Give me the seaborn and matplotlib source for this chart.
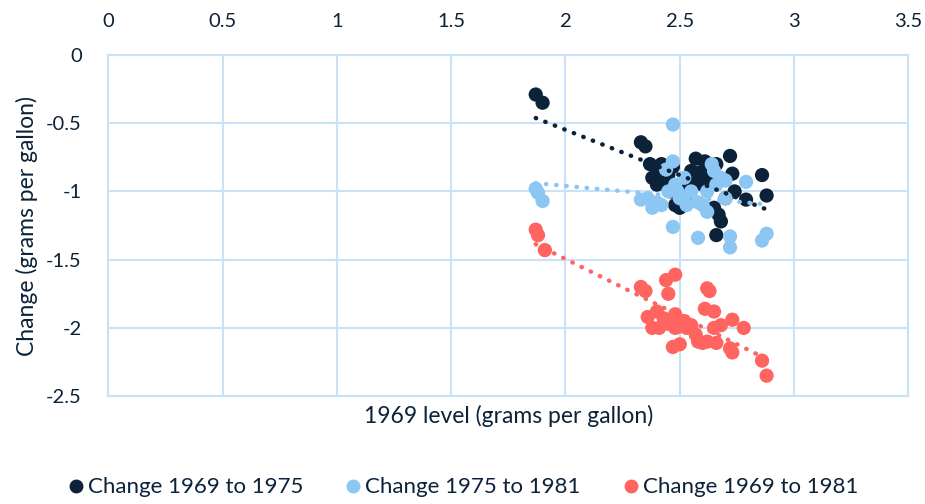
import matplotlib
matplotlib.use("Agg")
import matplotlib.pyplot as plt
import matplotlib.ticker as mticker
import pandas as pd
import seaborn as sns
from matplotlib.lines import Line2D

# change 1969 to 1975
x_6975 = [1.87, 1.90, 2.33, 2.35, 2.37, 2.40, 2.40, 2.43, 2.45, 2.47, 2.50, 2.50,
          2.53, 2.55, 2.57, 2.58, 2.60, 2.61, 2.62, 2.63, 2.64, 2.65, 2.66, 2.67,
          2.68, 2.70, 2.72, 2.73, 2.74, 2.79, 2.86, 2.88, 2.46, 2.52, 2.48,
          2.38, 2.42, 2.56, 2.59, 2.66]
y_6975 = [-0.29, -0.35, -0.64, -0.67, -0.80, -0.85, -0.95, -0.92, -0.88, -0.82, -1.08, -1.12,
          -0.98, -0.85, -0.76, -0.90, -0.95, -0.78, -0.83, -0.90, -0.95, -1.12, -1.32, -1.17,
          -1.22, -1.05, -0.74, -0.87, -1.00, -1.06, -0.88, -1.03, -1.00, -1.05, -1.10,
          -0.90, -0.80, -0.93, -0.86, -0.80]

# change 1975 to 1981
x_7581 = [1.87, 1.88, 1.90, 2.33, 2.36, 2.38, 2.40, 2.42, 2.44, 2.47, 2.47, 2.48,
          2.49, 2.50, 2.47, 2.52, 2.55, 2.58, 2.60, 2.62, 2.58, 2.64, 2.65, 2.66,
          2.68, 2.70, 2.72, 2.72, 2.79, 2.86, 2.88, 2.62, 2.70, 2.53, 2.45]
y_7581 = [-0.98, -1.01, -1.07, -1.06, -1.05, -1.12, -1.08, -1.10, -0.84, -0.51, -0.78, -0.95,
          -1.00, -1.05, -1.26, -0.90, -1.00, -1.08, -1.10, -1.15, -1.34, -0.80, -0.85, -0.95,
          -0.90, -0.92, -1.33, -1.41, -0.93, -1.36, -1.31, -1.00, -1.05, -1.10, -1.00]

# change 1969 to 1981
x_6981 = [1.87, 1.88, 1.91, 2.33, 2.35, 2.36, 2.38, 2.40, 2.41, 2.43, 2.44, 2.48,
          2.45, 2.48, 2.48, 2.47, 2.50, 2.50, 2.52, 2.53, 2.55, 2.57, 2.60, 2.62,
          2.62, 2.63, 2.61, 2.65, 2.65, 2.68, 2.66, 2.72, 2.73, 2.73, 2.78, 2.86,
          2.88, 2.58, 2.45]
y_6981 = [-1.28, -1.32, -1.43, -1.70, -1.73, -1.92, -2.00, -1.88, -2.00, -1.93, -1.65, -1.61,
          -1.75, -1.90, -2.00, -2.14, -2.12, -1.99, -1.95, -2.00, -1.98, -2.05, -2.11, -2.10,
          -1.71, -1.73, -1.86, -1.88, -2.00, -1.98, -2.11, -2.15, -2.18, -1.94, -2.00, -2.24,
          -2.35, -2.10, -1.97]

series_names = ["Change 1969 to 1975", "Change 1975 to 1981", "Change 1969 to 1981"]
colors = ["#0b2239", "#8cc6f2", "#ff6461"]
text_color = "#0b2239"
grid_color = "#c9e2f6"

df = pd.concat([
    pd.DataFrame({"level": x_6975, "change": y_6975, "series": series_names[0]}),
    pd.DataFrame({"level": x_7581, "change": y_7581, "series": series_names[1]}),
    pd.DataFrame({"level": x_6981, "change": y_6981, "series": series_names[2]}),
])

sns.set_style("white")
plt.rcParams['font.family'] = ['Lato', 'DejaVu Sans']
plt.rcParams['axes.unicode_minus'] = False

fig = plt.figure(figsize=(9.25, 5.04), dpi=100)
ax = fig.add_axes([0.117, 0.214, 0.865, 0.677])

sns.scatterplot(data=df, x="level", y="change", hue="series", hue_order=series_names,
                palette=colors, s=105, linewidth=0, alpha=1, legend=False, ax=ax, zorder=3)

# dotted linear trendlines on top of the points
for name, col in zip(series_names, colors):
    sub = df[df["series"] == name]
    sns.regplot(data=sub, x="level", y="change", scatter=False, ci=None, ax=ax,
                color=col, line_kws=dict(ls=(0, (0.1, 2.2)), lw=3.2,
                                         dash_capstyle="round", zorder=4))

ax.set_xlim(0, 3.5)
ax.set_ylim(-2.5, 0)
ax.xaxis.set_major_locator(mticker.MultipleLocator(0.5))
ax.yaxis.set_major_locator(mticker.MultipleLocator(0.5))
ax.xaxis.set_major_formatter(mticker.FuncFormatter(lambda v, p: f"{v:g}"))
ax.yaxis.set_major_formatter(mticker.FuncFormatter(lambda v, p: f"{v:g}"))
ax.xaxis.tick_top()
ax.tick_params(axis="both", length=0, labelsize=14.5, colors=text_color)
ax.tick_params(axis="x", pad=18)
ax.tick_params(axis="y", pad=19)
ax.grid(True, color=grid_color, lw=1.5)
ax.set_axisbelow(True)
for sp in ax.spines.values():
    sp.set_color(grid_color)
    sp.set_linewidth(1.5)

ax.set_xlabel("1969 level (grams per gallon)", fontsize=16.5, color=text_color, labelpad=6)
ax.xaxis.set_label_position("bottom")
ax.set_ylabel("Change (grams per gallon)", fontsize=16.5, color=text_color, labelpad=6)

handles = [Line2D([], [], marker="o", ls="none", color=c, markersize=9) for c in colors]
fig.legend(handles, series_names, loc="center", bbox_to_anchor=(0.5, 0.033), ncol=3,
           frameon=False, fontsize=16, handlelength=0.8, handletextpad=0.15,
           columnspacing=1.85, labelcolor=text_color)

fig.savefig("out.png", dpi=100)
